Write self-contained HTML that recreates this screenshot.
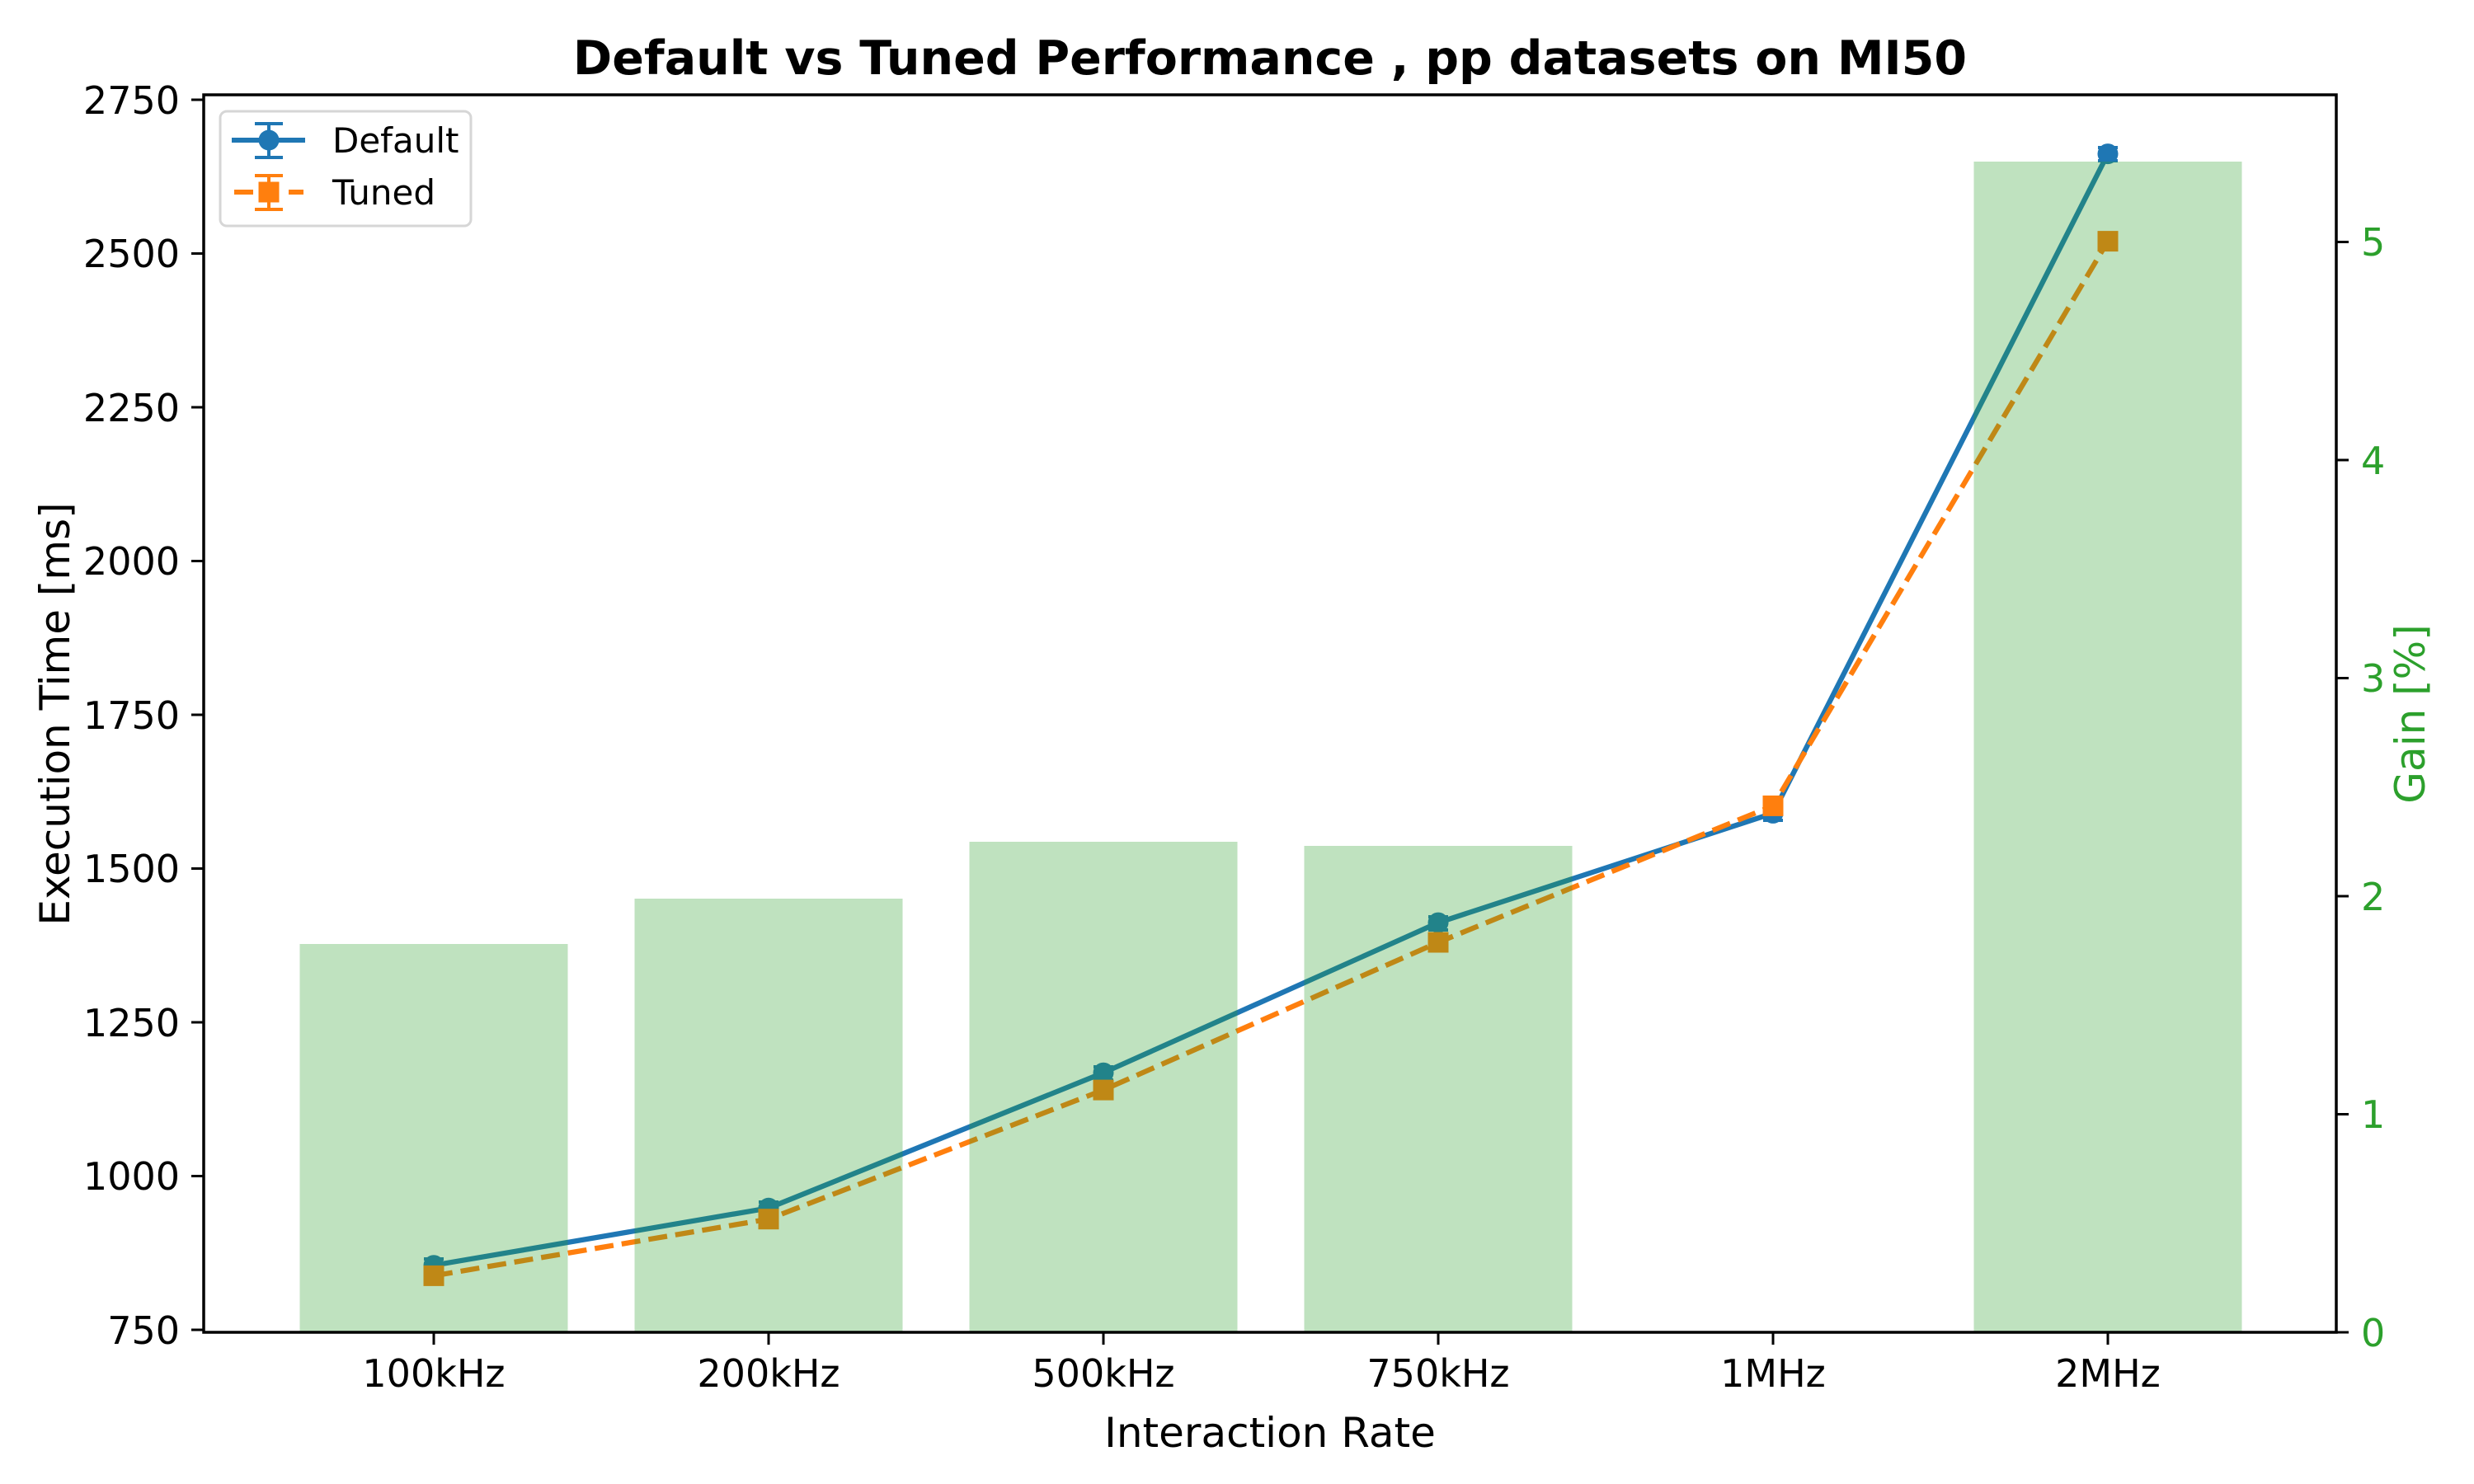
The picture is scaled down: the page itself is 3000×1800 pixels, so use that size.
<!DOCTYPE html>
<html><head><meta charset="utf-8"><style>html,body{margin:0;padding:0;background:#fff}svg{display:block}text{font-family:"DejaVu Sans","Liberation Sans",sans-serif}</style></head>
<body>
<svg width="3000" height="1800" viewBox="0 0 3000 1800" xmlns="http://www.w3.org/2000/svg">
<rect width="3000" height="1800" fill="#fff"/>
<text x="1540" y="90" font-size="57" font-weight="bold" text-anchor="middle">Default vs Tuned Performance , pp datasets on MI50</text>
<!-- lines -->
<g fill="none" stroke-width="6.25" stroke-linejoin="round">
<polyline stroke="#1f77b4" points="526,1534.7 932,1465.3 1338,1301.2 1744,1119.1 2150,986.4 2556,186.6"/>
<polyline stroke="#ff7f0e" stroke-dasharray="23,10" points="526,1547.4 932,1478.7 1338,1322.1 1744,1143 2150,977.4 2556,292.6"/>
</g>
<g stroke="#1f77b4" stroke-width="4">
<path d="M526,1527v16M932,1458v16M1338,1294v16M1744,1112v16M2150,979v16M2556,179v16"/>
<path d="M514,1527h24M514,1543h24M920,1458h24M920,1474h24M1326,1294h24M1326,1310h24M1732,1112h24M1732,1128h24M2138,979h24M2138,995h24M2544,179h24M2544,195h24"/>
</g>
<g fill="#1f77b4">
<circle cx="526" cy="1534.7" r="12.5"/><circle cx="932" cy="1465.3" r="12.5"/><circle cx="1338" cy="1301.2" r="12.5"/><circle cx="1744" cy="1119.1" r="12.5"/><circle cx="2150" cy="986.4" r="12.5"/><circle cx="2556" cy="186.6" r="12.5"/>
</g>
<g stroke="#ff7f0e" stroke-width="4">
<path d="M514,1539h24M514,1556h24M920,1470h24M920,1487h24M1326,1313h24M1326,1331h24M1732,1134h24M1732,1152h24M2138,968h24M2138,986h24M2544,283h24M2544,302h24"/>
</g>
<g fill="#ff7f0e">
<rect x="513.5" y="1534.9" width="25" height="25"/><rect x="919.5" y="1466.2" width="25" height="25"/><rect x="1325.5" y="1309.6" width="25" height="25"/><rect x="1731.5" y="1130.5" width="25" height="25"/><rect x="2137.5" y="964.9" width="25" height="25"/><rect x="2543.5" y="280.1" width="25" height="25"/>
</g>
<!-- bars -->
<g fill="#2ca02c" fill-opacity="0.3">
<rect x="363.5" y="1145" width="325" height="471"/>
<rect x="769.5" y="1090" width="325" height="526"/>
<rect x="1175.5" y="1021" width="325" height="595"/>
<rect x="1581.5" y="1026" width="325" height="590"/>
<rect x="2393.5" y="196" width="325" height="1420"/>
</g>
<!-- spines -->
<rect x="247" y="115" width="2586" height="1501" fill="none" stroke="#000" stroke-width="3.5"/>
<!-- left ticks -->
<g stroke="#000" stroke-width="3">
<path d="M232,1613h15M232,1426.5h15M232,1240h15M232,1053.5h15M232,867h15M232,680.5h15M232,494h15M232,307.5h15M232,121h15"/>
<path d="M526,1616v15M932,1616v15M1338,1616v15M1744,1616v15M2150,1616v15M2556,1616v15"/>
<path d="M2833,1616h15M2833,1351.5h15M2833,1087h15M2833,822.5h15M2833,558h15M2833,293.5h15"/>
</g>
<g font-size="46" text-anchor="end">
<text x="218" y="1630">750</text><text x="218" y="1443">1000</text><text x="218" y="1257">1250</text><text x="218" y="1070">1500</text><text x="218" y="884">1750</text><text x="218" y="697">2000</text><text x="218" y="511">2250</text><text x="218" y="324">2500</text><text x="218" y="138">2750</text>
</g>
<g font-size="46" text-anchor="middle">
<text x="526" y="1682">100kHz</text><text x="932" y="1682">200kHz</text><text x="1338" y="1682">500kHz</text><text x="1744" y="1682">750kHz</text><text x="2150" y="1682">1MHz</text><text x="2556" y="1682">2MHz</text>
</g>
<g font-size="46" fill="#2ca02c">
<text x="2863" y="1633">0</text><text x="2863" y="1368">1</text><text x="2863" y="1104">2</text><text x="2863" y="839">3</text><text x="2863" y="575">4</text><text x="2863" y="310">5</text>
</g>
<text x="1540" y="1755" font-size="50" text-anchor="middle">Interaction Rate</text>
<text transform="translate(84,866) rotate(-90)" font-size="50" text-anchor="middle">Execution Time [ms]</text>
<text transform="translate(2940,866) rotate(-90)" font-size="50" text-anchor="middle" fill="#2ca02c">Gain [%]</text>
<!-- legend -->
<rect x="267" y="135" width="304" height="139" rx="8" fill="#fff" fill-opacity="0.8" stroke="#d6d6d6" stroke-width="3"/>
<g stroke="#1f77b4" stroke-width="6">
<path d="M281,170h89"/><path d="M326,150v40" stroke-width="4"/><path d="M309,150h34M309,191h34" stroke-width="4"/>
</g>
<circle cx="326" cy="170" r="12.5" fill="#1f77b4"/>
<g stroke="#ff7f0e" stroke-width="6">
<path d="M284,233h23M350,233h18"/><path d="M326,213v40" stroke-width="4"/><path d="M309,213h34M309,254h34" stroke-width="4"/>
</g>
<rect x="313.5" y="220.5" width="25" height="25" fill="#ff7f0e"/>
<text x="403" y="185" font-size="42">Default</text>
<text x="403" y="248" font-size="42">Tuned</text>
</svg>
</body></html>
